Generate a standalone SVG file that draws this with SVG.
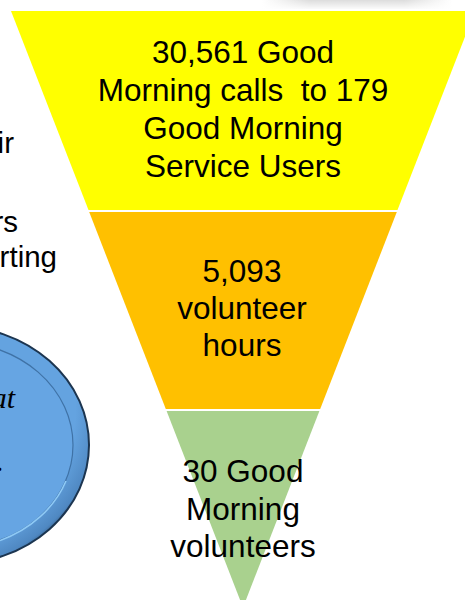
<svg xmlns="http://www.w3.org/2000/svg" width="465" height="600" viewBox="0 0 465 600">
<defs>
<style>
.lbl{font-family:"Liberation Sans",Arial,sans-serif;font-size:31.5px;fill:#000;text-anchor:middle}
.side{font-family:"Liberation Sans",Arial,sans-serif;font-size:29.5px;fill:#000;text-anchor:end}
.ital{font-family:"Liberation Serif","Times New Roman",serif;font-style:italic;font-size:30px;fill:#000;text-anchor:end}
</style>
<linearGradient id="barH" x1="0" y1="0" x2="1" y2="0">
<stop offset="0" stop-color="#d9d9d9" stop-opacity="0"/>
<stop offset="0.25" stop-color="#d4d4d4" stop-opacity="1"/>
<stop offset="0.75" stop-color="#d4d4d4" stop-opacity="1"/>
<stop offset="1" stop-color="#d9d9d9" stop-opacity="0"/>
</linearGradient>
<linearGradient id="barV" x1="0" y1="0" x2="0" y2="1">
<stop offset="0" stop-color="#fff" stop-opacity="0.2"/>
<stop offset="1" stop-color="#fff" stop-opacity="0.9"/>
</linearGradient>
<radialGradient id="rim" cx="0.35" cy="0.35" r="0.75">
<stop offset="0.8" stop-color="#64a3e0"/>
<stop offset="0.93" stop-color="#4f88c2"/>
<stop offset="1" stop-color="#1e3a58"/>
</radialGradient>
</defs>
<rect x="262" y="0" width="190" height="9" fill="url(#barH)"/>
<rect x="262" y="0" width="190" height="9" fill="url(#barV)"/>
<g id="side-text">
<text class="side" x="14" y="153">ir</text>
<text class="side" x="18" y="232">rs</text>
<text class="side" x="57" y="267">rting</text>
</g>
<g id="ellipse">
<ellipse cx="-46" cy="445" rx="135" ry="119" fill="url(#rim)" stroke="#1c3550" stroke-width="2"/>
<ellipse cx="-46" cy="445" rx="119" ry="103" fill="#66a5e3" stroke="#3f72a6" stroke-width="1.2"/>
<path d="M 0 540.5 A 119 103 0 0 0 66 481" fill="none" stroke="#8fcaf6" stroke-width="1.6"/>
<text class="ital" x="15" y="408">at</text>
<text class="ital" x="4" y="471">.</text>
</g>
<g id="band-calls">
<polygon points="11,11 475,11 397.5,210 88.5,210" fill="#ffff00"/>
<text class="lbl" x="243" y="63">30,561 Good</text>
<text class="lbl" x="243" y="101" xml:space="preserve">Morning calls  to 179</text>
<text class="lbl" x="243" y="139">Good Morning</text>
<text class="lbl" x="243" y="177">Service Users</text>
</g>
<g id="band-hours">
<polygon points="89.2,212 396.8,212 320.2,409 165.8,409" fill="#ffc000"/>
<text class="lbl" x="242" y="282">5,093</text>
<text class="lbl" x="242" y="319">volunteer</text>
<text class="lbl" x="242" y="356">hours</text>
</g>
<g id="band-volunteers">
<polygon points="166.6,411 319.4,411 243,607.5" fill="#a9d18e"/>
<text class="lbl" x="243" y="482">30 Good</text>
<text class="lbl" x="243" y="520">Morning</text>
<text class="lbl" x="243" y="557">volunteers</text>
</g>
</svg>
